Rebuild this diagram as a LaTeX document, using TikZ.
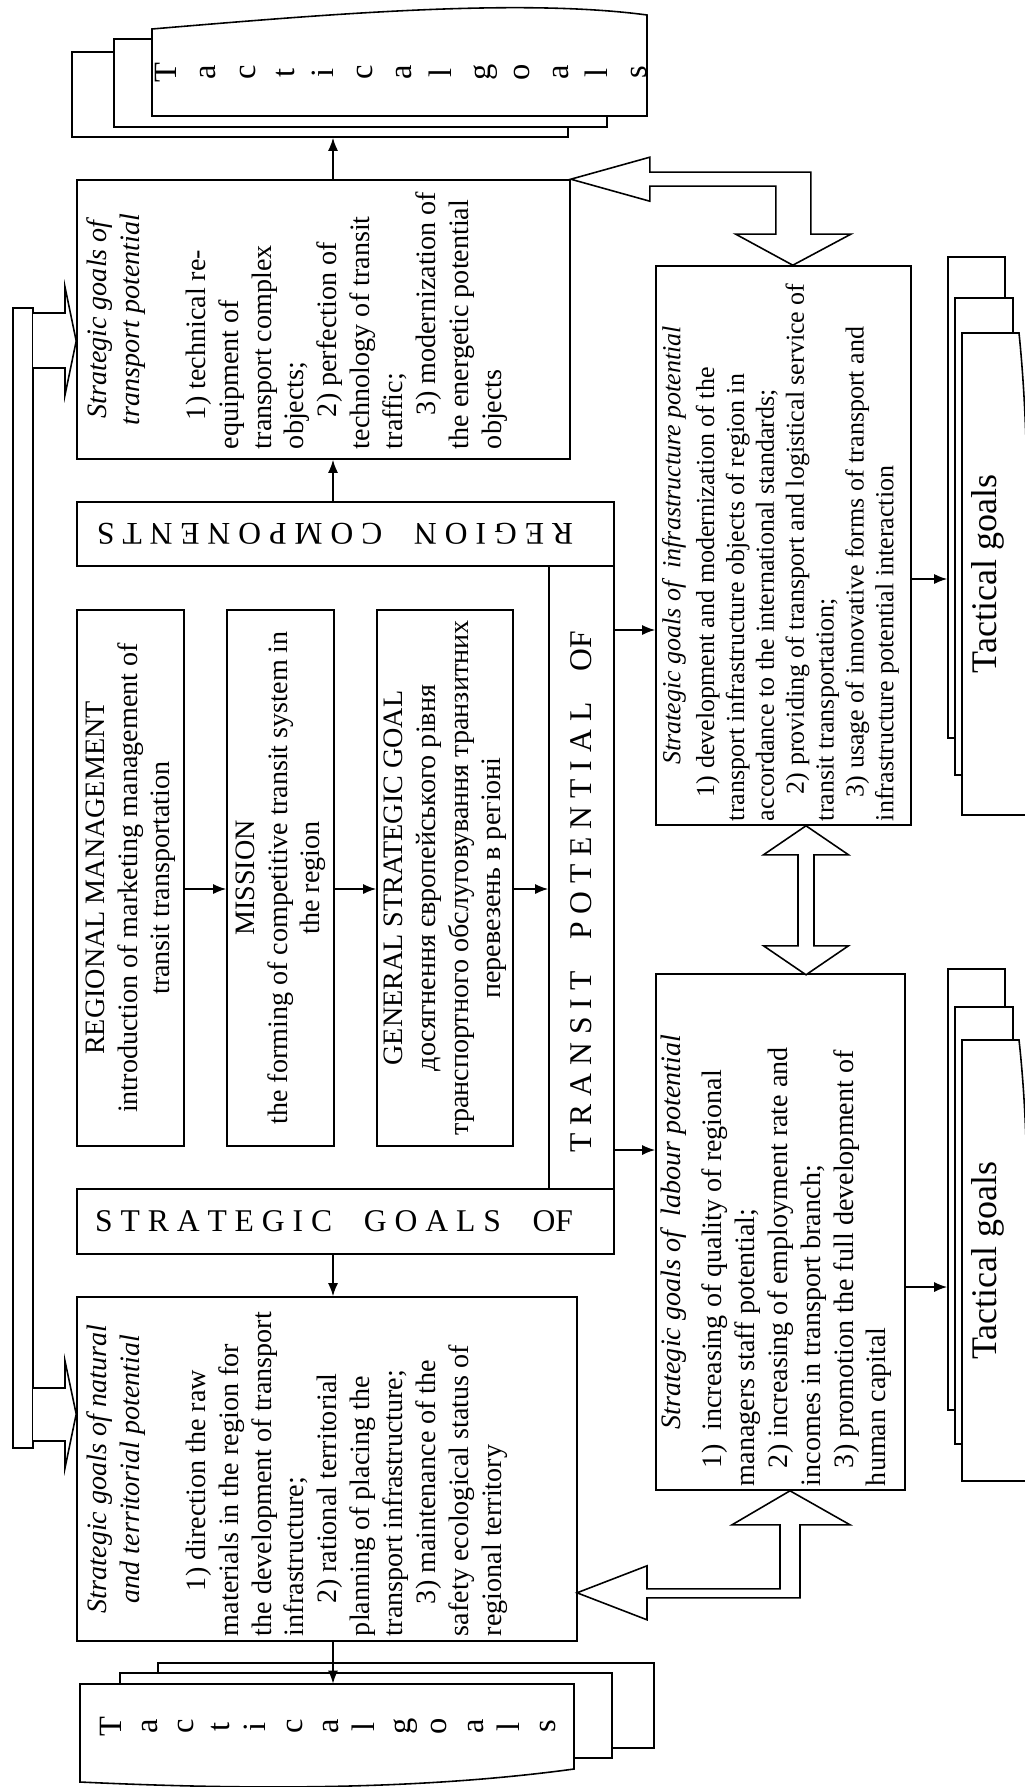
\documentclass[tikz,border=0pt]{standalone}
\usepackage{fontspec}
\setmainfont{Liberation Serif}
\usepackage{graphicx}
\usetikzlibrary{arrows.meta,calc}

\newlength{\pxu}\setlength{\pxu}{0.02cm}
\newcommand{\bodyfont}{\fontsize{16pt}{18.7pt}\selectfont}
\newcommand{\infrafont}{\fontsize{14.8pt}{17pt}\selectfont}
\newcommand{\bandfont}{\fontsize{18pt}{21pt}\selectfont}
\newcommand{\tacfont}{\fontsize{18.5pt}{22.3pt}\selectfont}
\newcommand{\tacfontb}{\fontsize{18.5pt}{20.6pt}\selectfont}
\newcommand{\tacbig}{\fontsize{20.5pt}{24pt}\selectfont}
% rotated text block: width, height, contents
\newcommand{\goalbox}[3]{\rotatebox{90}{\begin{minipage}[c][#2][t]{#1}\raggedright #3\end{minipage}}}
% rotated centred lines
\newcommand{\rotc}[1]{\rotatebox{90}{\begin{tabular}{@{}c@{}}#1\end{tabular}}}

\begin{document}
\begin{tikzpicture}[
    x=0.02cm, y=-0.02cm,
    sz/.style 2 args={minimum width=#1*0.02cm, minimum height=#2*0.02cm},
    box/.style={rectangle, draw=black, line width=0.9pt, inner sep=0pt, fill=white, font=\bodyfont},
    page/.style={box},
    arr/.style={line width=0.9pt, -{Latex[length=0.26cm,width=0.2cm]}},
    hollow/.style={draw=black, line width=0.9pt, fill=white}
]
\useasboundingbox (0,0) rectangle (1024,1787);

% tactical goals, top
\node[page, sz={496}{85}] (tac1c) at (320,94.5) {};
\node[page, sz={493}{88}] (tac1b) at (360.5,83) {};
\filldraw[hollow] (152,29) -- (152,116) -- (647,116) -- (647,15) .. controls (520,-2) and (330,14) .. (152,29) -- cycle;
\node[inner sep=0pt, font=\tacfont] (tac1a) at (404,72.5) {\rotc{T\\a\\c\\t\\i\\c\\a\\l\\g\\o\\a\\l\\s}};

% strategic goals of transport potential
\node[box, sz={493}{279}] (transport) at (323.5,319.5) {\goalbox{259\pxu}{473\pxu}{%
{\centering\itshape Strategic goals of\\ transport potential\par}
\vspace{\baselineskip}
\hspace*{29\pxu}1) technical re-\\
equipment of\\
transport complex\\
objects;\\
\hspace*{32\pxu}2) perfection of\\
technology of transit\\
traffic;\\
\hspace*{34\pxu}3)\ modernization of\\
the energetic potential\\
objects}};

% frame: strategic goals of transit potential of region components
\node[box, sz={537}{64}, font=\bandfont] (region) at (345.5,534) {\rotatebox{180}{\hspace*{21\pxu}R E G I O N\quad C O M P O N E N T S}};
\node[box, sz={65}{623}, font=\bandfont] (transit) at (581.5,877.5) {\rotatebox{90}{T R A N S I T\quad P O T E N T I A L\quad OF\hspace*{28\pxu}}};
\node[box, sz={537}{65}, font=\bandfont] (stratof) at (345.5,1221.5) {S T R A T E G I C\quad G O A L S\quad OF\hspace*{23\pxu}};

% inner chain
\node[box, sz={107}{536}] (regmgmt) at (130.5,878) {\rotc{REGIONAL MANAGEMENT\\introduction of marketing management of\\transit transportation}};
\node[box, sz={107}{536}] (mission) at (280.5,878) {\rotc{MISSION\\the forming of competitive transit system in\\the region}};
\node[box, sz={136}{536}] (general) at (445,878) {\rotc{GENERAL STRATEGIC GOAL\\\upshape досягнення європейського рівня\\транспортного обслуговування транзитних\\перевезень в регіоні}};

% strategic goals of natural and territorial potential
\node[box, sz={500}{344}] (natural) at (327,1469) {\goalbox{334\pxu}{480\pxu}{%
{\centering\itshape Strategic goals of natural\\ and territorial potential\par}
\vspace{\baselineskip}
\hspace*{45\pxu}1) direction the raw\\
materials in the region for\\
the development of transport\\
infrastructure;\\
\hspace*{33\pxu}2) rational territorial\\
planning of placing the\\
transport infrastructure;\\
\hspace*{32\pxu}3) maintenance of the\\
safety ecological status of\\
regional territory}};

% strategic goals of infrastructure potential
\node[box, sz={255}{559}, font=\infrafont] (infra) at (783.5,545.5) {\goalbox{551\pxu}{243\pxu}{%
{\centering\itshape Strategic goals of\ \ infrastructure potential\par}
\vspace{4\pxu}
\hspace*{24\pxu}1) development and modernization of the\\
transport infrastructure objects of region in\\
accordance to the international standards;\\
\hspace*{27\pxu}2) providing of transport and logistical service of\\
transit transportation;\\
\hspace*{24\pxu}3) usage of innovative forms of transport and\\
infrastructure potential interaction}};

% strategic goals of labour potential
\node[box, sz={249}{516}] (labour) at (780.5,1232) {\goalbox{508\pxu}{239\pxu}{%
{\centering\itshape Strategic goals of\ \ labour potential\par}
\vspace{8\pxu}
\hspace*{18\pxu}1)\ \ increasing of quality of regional\\
managers staff potential;\\
\hspace*{18\pxu}2) increasing of employment rate and\\
incomes in transport branch;\\
\hspace*{18\pxu}3) promotion the full development of\\
human capital}};

% tactical goals, bottom
\node[page, sz={496}{85}] (tac2c) at (406,1705.5) {};
\node[page, sz={492}{85}] (tac2b) at (366,1715.5) {};
\filldraw[hollow] (80,1684) -- (574,1684) -- (574,1769) .. controls (420,1790) and (250,1790) .. (80,1782) -- cycle;
\node[inner sep=0pt, sz={10}{85}, font=\tacfontb] (tac2a) at (331,1726.5) {\rotc{T\\a\\c\\t\\i\\c\\a\\l\\g\\o\\a\\l\\s}};

% tactical goals, right
\node[page, sz={57}{481}] (tac3c) at (976.5,497.5) {};
\node[page, sz={58}{477}] (tac3b) at (984,536.5) {};
\filldraw[hollow] (962,333) -- (1019,333) .. controls (1035,490) and (1022,650) .. (1028,815) -- (962,815) -- cycle;
\node[inner sep=0pt, font=\tacbig] (tac3a) at (988,574) {\rotatebox{90}{Tactical goals}};

\node[page, sz={57}{441}] (tac4c) at (976.5,1189.5) {};
\node[page, sz={58}{437}] (tac4b) at (984,1225.5) {};
\filldraw[hollow] (962,1040) -- (1019,1040) .. controls (1035,1185) and (1022,1340) .. (1028,1481) -- (962,1481) -- cycle;
\node[inner sep=0pt, font=\tacbig] (tac4a) at (988,1260.5) {\rotatebox{90}{Tactical goals}};

% arrows
\coordinate (axis) at (333,0);
\coordinate (row) at (0,889);
\coordinate (rowin) at (0,630);
\coordinate (rowla) at (0,1150);
\coordinate (rowt3) at (0,579);
\coordinate (rowt4) at (0,1287);
\draw[arr] (transport.north -| axis) -- (tac1c.south -| axis);
\draw[arr] (region.north -| axis) -- (transport.south -| axis);
\draw[arr] (stratof.south -| axis) -- (natural.north -| axis);
\draw[arr] (natural.south -| axis) -- (tac2a.north -| axis);
\draw[arr] (regmgmt.east |- row) -- (mission.west |- row);
\draw[arr] (mission.east |- row) -- (general.west |- row);
\draw[arr] (general.east |- row) -- (transit.west |- row);
\draw[arr] (transit.east |- rowin) -- (infra.west |- rowin);
\draw[arr] (transit.east |- rowla) -- (labour.west |- rowla);
\draw[arr] (infra.east |- rowt3) -- (tac3c.west |- rowt3);
\draw[arr] (labour.east |- rowt4) -- (tac4c.west |- rowt4);

% hollow arrows
\filldraw[hollow] (transport.north east) -- ++(79,-22) -- ++(0,15) -- ++(161,0) -- ++(0,62) -- ++(40,0) -- ++(-58,31) -- ++(-57,-31) -- ++(40,0) -- ++(0,-48) -- ++(-126,0) -- ++(0,15) -- cycle;
\coordinate (dx) at (806,0);
\filldraw[hollow] (infra.south -| dx) -- ++(42.5,29) -- ++(-34.5,0) -- ++(0,91) -- ++(34.5,0) -- ++(-42.5,29) -- ++(-42.5,-29) -- ++(34.5,0) -- ++(0,-91) -- ++(-34.5,0) -- cycle;
\coordinate (dl) at (790,0);
\filldraw[hollow] (labour.south -| dl) -- ++(60,34) -- ++(-50,0) -- ++(0,73) -- ++(-153,0) -- ++(0,22) -- ++(-70,-27) -- ++(70,-27) -- ++(0,23) -- ++(133,0) -- ++(0,-64) -- ++(-48,0) -- cycle;

% left bracket
\coordinate (b1) at (0,341);
\coordinate (b2) at (0,1414);
\draw[hollow] (13,308) rectangle (33,1448);
\draw[hollow] (33,313) -- (65,313) -- (65,287) -- (transport.west |- b1) -- (65,395) -- (65,368) -- (33,368);
\draw[hollow] (33,1388) -- (65,1388) -- (65,1361) -- (natural.west |- b2) -- (65,1468) -- (65,1441) -- (33,1441);

\end{tikzpicture}
\end{document}
